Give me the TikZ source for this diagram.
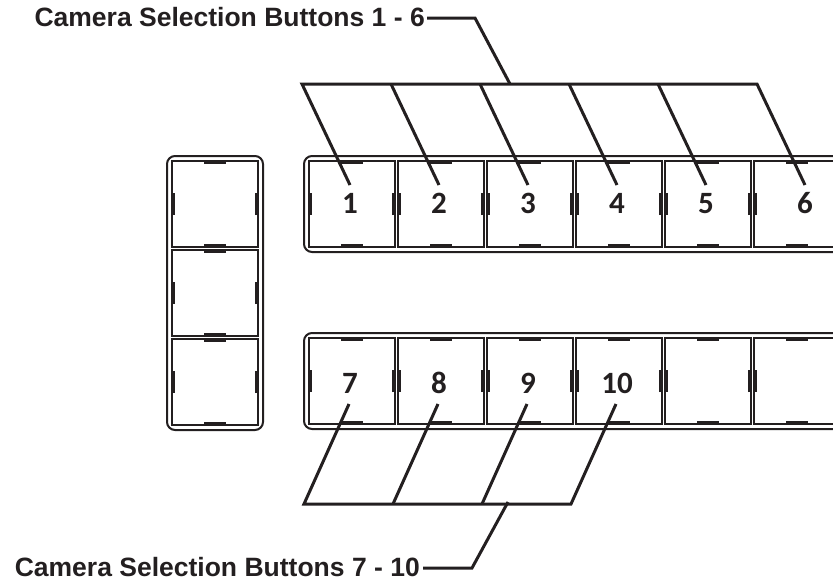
\documentclass[tikz,border=0pt]{standalone}
\usepackage{fontspec}
\newfontfamily\titlefont{Liberation Sans}
\newfontfamily\digitfont{Carlito}
\definecolor{ink}{RGB}{35,31,32}
\tikzset{
    btn/.style={draw=ink, line width=1.9pt, minimum width=86pt, minimum height=86pt, inner sep=0pt, outer sep=0pt},
    frame/.style={draw=ink, line width=2pt, rounded corners=8pt},
    tick/.style={draw=ink, line width=2.8pt},
    num/.style={text=ink, inner sep=0pt, text height=19.6pt, text depth=0pt, font=\digitfont\bfseries\fontsize{31}{31}\selectfont},
    leader/.style={draw=ink, line width=3pt, line join=miter},
    title/.style={text=ink, inner sep=0pt, anchor=east, font=\titlefont\bfseries\fontsize{26.5}{26.5}\selectfont}
}
\newcommand\btnmarks[1]{%
    \draw[tick] ([xshift=-11pt,yshift=-1.5pt]#1.north) -- ([xshift=11pt,yshift=-1.5pt]#1.north);
    \draw[tick] ([xshift=-11pt,yshift=1.5pt]#1.south) -- ([xshift=11pt,yshift=1.5pt]#1.south);
    \draw[tick] ([xshift=1.5pt,yshift=-11pt]#1.west) -- ([xshift=1.5pt,yshift=11pt]#1.west);
    \draw[tick] ([xshift=-1.5pt,yshift=-11pt]#1.east) -- ([xshift=-1.5pt,yshift=11pt]#1.east);
}
\begin{document}
\begin{tikzpicture}[x=1pt,y=-1pt]
    \useasboundingbox (0,0) rectangle (833,581);
    \clip (0,0) rectangle (833,581);
    % panels
    \draw[frame] (167,156) rectangle (263,430);
    \draw[frame] (304,156) rectangle (870,252);
    \draw[frame] (304,333) rectangle (870,429);
    \foreach \j in {1,2,3}
        {
            \node[btn] (s\j) at (215, 115 + 89*\j) {};
            \btnmarks{s\j}
        }
    \foreach \i in {1,...,6}
        {
            \node[btn] (t\i) at (263 + 89*\i, 204) {};
            \node[btn] (u\i) at (263 + 89*\i, 381) {};
            \btnmarks{t\i}
            \btnmarks{u\i}
        }
    % digits
    \foreach \i in {1,...,5}
        \node[num] (l\i) at ([xshift=-2pt]t\i) {\i};
    \node[num] (l6) at ([xshift=8pt]t6) {6};
    \foreach \i/\n in {1/7,2/8,3/9,4/10}
        \node[num] (l\n) at ([xshift=-2pt,yshift=-3pt]u\i) {\n};
    % buttons 1 - 6
    \foreach \i in {1,...,6}
        {
            \coordinate (e\i) at ([yshift=9pt]l\i.north);
            \coordinate (b\i) at ([shift={(-48,-110)}]l\i.north);
        }
    \draw[leader] (e1) -- (b1) -- (b6) -- (e6);
    \foreach \i in {2,...,5}
        \draw[leader] (b\i) -- (e\i);
    \coordinate (k1) at (510,84);
    \node[title] (c1) at (425,17) {Camera Selection Buttons 1 - 6};
    \draw[leader] (k1) -- (475,18) -- ([xshift=2pt,yshift=-1pt]c1.east);
    % buttons 7 - 10
    \foreach \n in {7,...,10}
        {
            \coordinate (f\n) at ([shift={(-1,10)}]l\n.south);
            \coordinate (d\n) at ([shift={(-46,110)}]l\n.south);
        }
    \draw[leader] (f7) -- (d7) -- (d10) -- (f10);
    \foreach \n in {8,9}
        \draw[leader] (d\n) -- (f\n);
    \coordinate (k2) at (508,502);
    \node[title] (c2) at (420,567) {Camera Selection Buttons 7 - 10};
    \draw[leader] (k2) -- (472,568) -- ([xshift=3pt,yshift=-1pt]c2.east);
\end{tikzpicture}
\end{document}
